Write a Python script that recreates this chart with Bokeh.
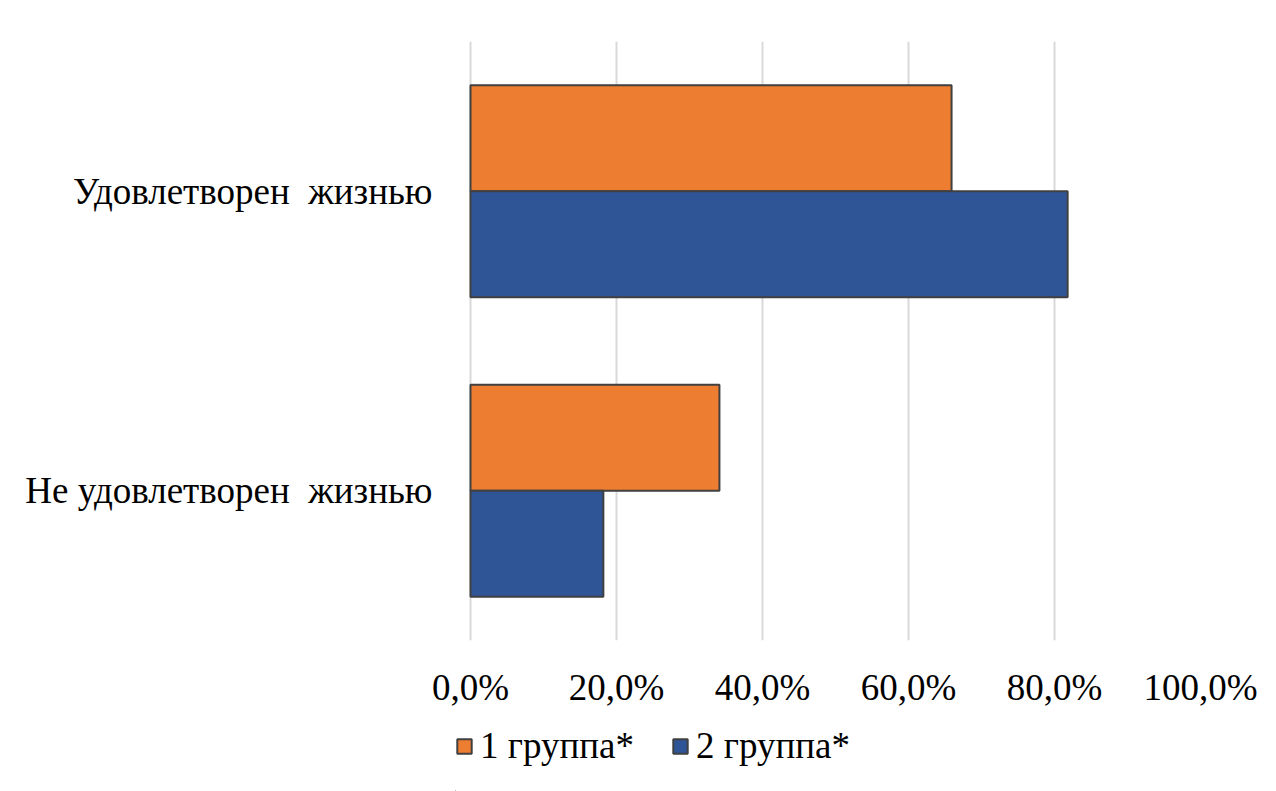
from bokeh.plotting import figure
from bokeh.layouts import column
from bokeh.models import (FactorRange, Range1d, CustomJSTickFormatter, Legend,
                          LegendItem, ColumnDataSource, FixedTicker)
from bokeh.transform import dodge
from bokeh.embed import file_html
from bokeh.resources import INLINE

# ---- data ----
categories = ["Не удовлетворен \u00a0жизнью", "Удовлетворен \u00a0жизнью"]
series_names = ["1 группа*", "2 группа*"]
group1 = [34.1, 65.9]
group2 = [18.2, 81.8]
x_ticks = [0, 20, 40, 60, 80, 100]

colors = ["#ED7D31", "#2F5597"]
OUTLINE = "#404040"
FONT = "Liberation Serif"
LEG_FONT = "'Liberation Serif', serif"
FS = "37px"

src = ColumnDataSource(dict(cat=categories, g1=group1, g2=group2))

W = 1276
H_MAIN = 715
H_LEG = 76
FRAME_L = 455          # frame starts a little left of the 0% line (legend aligns here)
FRAME_R = 1200
ZERO_X = 470
px_per_unit = (FRAME_R - ZERO_X) / 100.0
x_start = -(ZERO_X - FRAME_L) / px_per_unit

p = figure(width=W, height=H_MAIN,
           y_range=FactorRange(factors=categories, range_padding=0),
           x_range=Range1d(x_start, 100),
           output_backend="svg", toolbar_location=None,
           min_border_left=FRAME_L, min_border_top=41,
           min_border_right=W - FRAME_R, min_border_bottom=75)

bar_h = 0.354
r1 = p.hbar(y=dodge("cat", bar_h / 2, range=p.y_range), left=0, right="g1",
            height=bar_h, fill_color=colors[0], line_color=OUTLINE,
            line_width=2, source=src)
r2 = p.hbar(y=dodge("cat", -bar_h / 2, range=p.y_range), left=0, right="g2",
            height=bar_h, fill_color=colors[1], line_color=OUTLINE,
            line_width=2, source=src)

p.outline_line_color = None
p.ygrid.grid_line_color = None
p.xgrid.grid_line_color = "#d9d9d9"
p.xgrid.grid_line_width = 2
p.xaxis.ticker = FixedTicker(ticks=x_ticks)
p.xaxis.formatter = CustomJSTickFormatter(
    code="return tick.toFixed(1).replace('.', ',') + '%';")

for ax in (p.xaxis[0], p.yaxis[0]):
    ax.axis_line_color = None
    ax.major_tick_line_color = None
    ax.minor_tick_line_color = None
    ax.major_tick_out = 0
    ax.major_tick_in = 0
    ax.major_label_text_font = FONT
    ax.major_label_text_font_size = FS
    ax.major_label_text_color = "#000000"
p.xaxis.major_label_standoff = 26
p.yaxis.major_label_standoff = 23

# ---- legend strip ----
p2 = figure(width=W, height=H_LEG, x_range=Range1d(0, 1), y_range=Range1d(0, 1),
            output_backend="svg", toolbar_location=None,
            min_border_left=0, min_border_right=0,
            min_border_top=0, min_border_bottom=0)
p2.axis.visible = False
p2.grid.visible = False
p2.outline_line_color = None
# legend swatches: same series styles, drawn off-screen (only their legend glyphs show)
leg_src = ColumnDataSource(dict(y=[-10.0], right=[-10.0]))
l1 = p2.hbar(y="y", right="right", left=-11, height=0.1, fill_color=colors[0],
             line_color=OUTLINE, line_width=2, source=leg_src)
l2 = p2.hbar(y="y", right="right", left=-11, height=0.1, fill_color=colors[1],
             line_color=OUTLINE, line_width=2, source=leg_src)

legend = Legend(items=[LegendItem(label=series_names[0], renderers=[l1]),
                       LegendItem(label=series_names[1], renderers=[l2])],
                orientation="horizontal", location=(0, 24),
                label_text_font=LEG_FONT, label_text_font_size=FS,
                label_text_color="#000000",
                glyph_width=18, glyph_height=18, label_standoff=7,
                spacing=37, padding=0, margin=0,
                border_line_color=None, background_fill_alpha=0)
p2.add_layout(legend, "center")

layout = column(p, p2, spacing=0)
open("out.html", "w").write(file_html(layout, INLINE))
